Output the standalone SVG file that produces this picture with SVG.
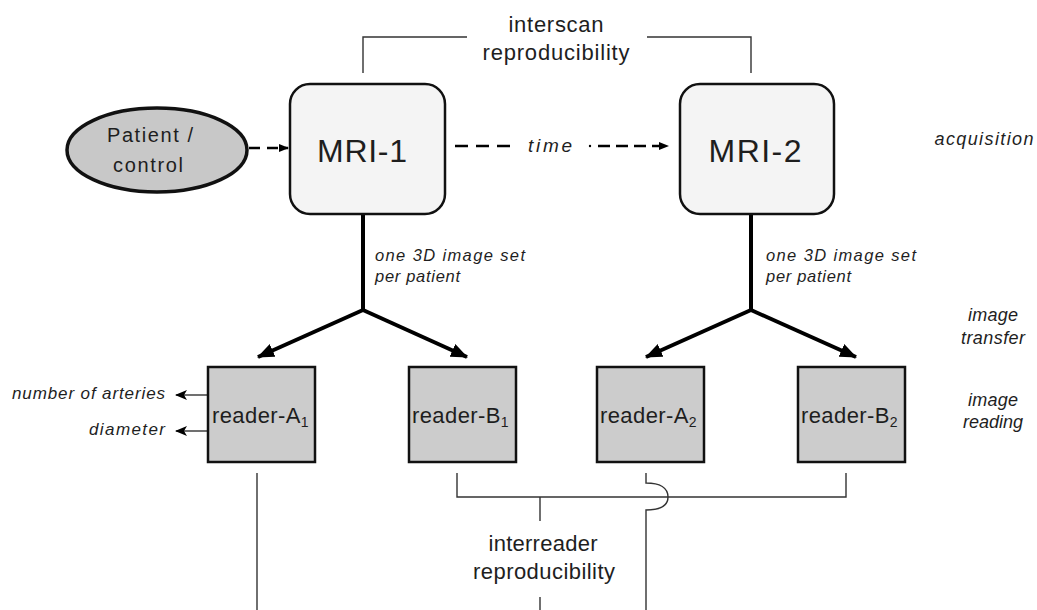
<svg xmlns="http://www.w3.org/2000/svg" width="1037" height="610" viewBox="0 0 1037 610">
<style>
.t{font-family:"Liberation Sans",Arial,sans-serif;fill:#1e1e1e}
.i{font-style:italic}
.thin{fill:none;stroke:#333;stroke-width:1.4}
.thick{fill:none;stroke:#000;stroke-width:4}
.dash{fill:none;stroke:#000;stroke-width:2.5}
.mri{fill:#f4f4f4;stroke:#111;stroke-width:2.5}
.rd{fill:#cccccc;stroke:#111;stroke-width:2.5}
</style>
<defs>
<marker id="ah" markerWidth="10" markerHeight="8" refX="9" refY="4" orient="auto" markerUnits="userSpaceOnUse">
<path d="M0,0 L10,4 L0,8 z" fill="#000"/>
</marker>
<marker id="big" markerWidth="18" markerHeight="14" refX="16" refY="7" orient="auto" markerUnits="userSpaceOnUse">
<path d="M0,0 L17,7 L0,14 z" fill="#000"/>
</marker>
<marker id="sm" markerWidth="12" markerHeight="10" refX="11" refY="5" orient="auto" markerUnits="userSpaceOnUse">
<path d="M0,0 L12,5 L0,10 L3,5 z" fill="#000"/>
</marker>
</defs>

<g id="connectors">
<path class="thin" d="M363,73 V37 H467"/>
<path class="thin" d="M647,37 H751 V73"/>
<path class="dash" d="M249,148 H288" stroke-dasharray="11 7" marker-end="url(#ah)"/>
<path class="dash" d="M455,146 H512" stroke-dasharray="13 8"/>
<circle cx="590" cy="146" r="1.2" fill="#000"/>
<path class="dash" d="M598,146 H668" stroke-dasharray="12 6" marker-end="url(#ah)"/>
<path class="thick" d="M363,214 V310"/>
<path class="thick" d="M363,310 L258,357" marker-end="url(#big)"/>
<path class="thick" d="M363,310 L467,357" marker-end="url(#big)"/>
<path class="thick" d="M751,214 V310"/>
<path class="thick" d="M751,310 L646,357" marker-end="url(#big)"/>
<path class="thick" d="M751,310 L856,357" marker-end="url(#big)"/>
<path class="thin" d="M208,395 H176" stroke="#000" marker-end="url(#sm)"/>
<path class="thin" d="M208,431 H176" stroke="#000" marker-end="url(#sm)"/>
<path class="thin" d="M457,473 V497 H846 V473"/>
<path class="thin" d="M540,497 V521"/>
<path class="thin" d="M540,597 V610"/>
<path class="thin" d="M257,473 V610"/>
<path class="thin" d="M646,473 V483 C660,483 668,488 668,497 C668,506 660,510 646,510 V610"/>
</g>

<g id="patient">
<ellipse cx="157" cy="150" rx="90" ry="42" fill="#c8c8c8" stroke="#111" stroke-width="3.5"/>
<text class="t" x="150" y="142" font-size="20" text-anchor="middle" textLength="86" lengthAdjust="spacing">Patient /</text>
<text class="t" x="148" y="172" font-size="20" text-anchor="middle" textLength="70" lengthAdjust="spacing">control</text>
</g>

<g id="mri1">
<rect class="mri" x="290" y="84" width="155" height="130" rx="20"/>
<text class="t" x="362" y="162" font-size="32" text-anchor="middle" textLength="90" lengthAdjust="spacing">MRI-1</text>
</g>

<g id="mri2">
<rect class="mri" x="680" y="84" width="154" height="130" rx="20"/>
<text class="t" x="755" y="162" font-size="32" text-anchor="middle" textLength="93" lengthAdjust="spacing">MRI-2</text>
</g>

<g id="readerA1">
<rect class="rd" x="208" y="367" width="107" height="95"/>
<text class="t" x="212" y="423" font-size="22" letter-spacing="0.4">reader-A<tspan font-size="14" dy="4">1</tspan></text>
</g>
<g id="readerB1">
<rect class="rd" x="409" y="367" width="107" height="95"/>
<text class="t" x="412" y="423" font-size="22" letter-spacing="0.4">reader-B<tspan font-size="14" dy="4">1</tspan></text>
</g>
<g id="readerA2">
<rect class="rd" x="597" y="367" width="107" height="95"/>
<text class="t" x="600" y="423" font-size="22" letter-spacing="0.4">reader-A<tspan font-size="14" dy="4">2</tspan></text>
</g>
<g id="readerB2">
<rect class="rd" x="798" y="367" width="107" height="95"/>
<text class="t" x="801" y="423" font-size="22" letter-spacing="0.4">reader-B<tspan font-size="14" dy="4">2</tspan></text>
</g>

<g id="labels">
<text class="t" x="556" y="32" font-size="22" text-anchor="middle" textLength="95" lengthAdjust="spacing">interscan</text>
<text class="t" x="556" y="60" font-size="22" text-anchor="middle" textLength="147" lengthAdjust="spacing">reproducibility</text>
<text class="t i" x="528" y="152" font-size="19" textLength="44" lengthAdjust="spacing">time</text>
<text class="t i" x="375" y="261" font-size="16.5" textLength="150" lengthAdjust="spacing">one 3D image set</text>
<text class="t i" x="375" y="282" font-size="16.5" textLength="85" lengthAdjust="spacing">per patient</text>
<text class="t i" x="766" y="261" font-size="16.5" textLength="150" lengthAdjust="spacing">one 3D image set</text>
<text class="t i" x="766" y="282" font-size="16.5" textLength="85" lengthAdjust="spacing">per patient</text>
<text class="t i" x="165" y="399" font-size="17" text-anchor="end" textLength="153" lengthAdjust="spacing">number of arteries</text>
<text class="t i" x="165" y="435" font-size="17" text-anchor="end" textLength="76" lengthAdjust="spacing">diameter</text>
<text class="t i" x="984" y="145" font-size="18" text-anchor="middle" textLength="99" lengthAdjust="spacing">acquisition</text>
<text class="t i" x="993" y="321" font-size="18" text-anchor="middle" textLength="50" lengthAdjust="spacing">image</text>
<text class="t i" x="993" y="344" font-size="18" text-anchor="middle" textLength="64" lengthAdjust="spacing">transfer</text>
<text class="t i" x="993" y="406" font-size="18" text-anchor="middle" textLength="50" lengthAdjust="spacing">image</text>
<text class="t i" x="993" y="428" font-size="18" text-anchor="middle" textLength="60" lengthAdjust="spacing">reading</text>
<text class="t" x="543" y="551" font-size="22" text-anchor="middle" textLength="109" lengthAdjust="spacing">interreader</text>
<text class="t" x="544" y="579" font-size="22" text-anchor="middle" textLength="142" lengthAdjust="spacing">reproducibility</text>
</g>
</svg>
